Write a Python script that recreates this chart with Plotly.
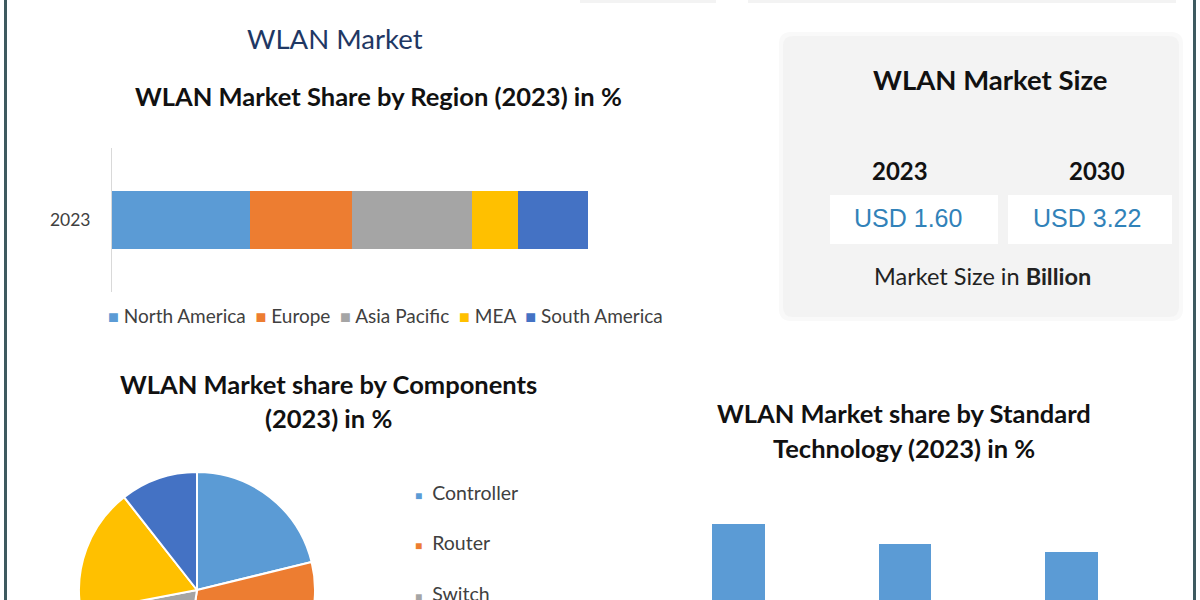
import plotly.graph_objects as go

# ---------------- data ----------------
region_year = ["2023"]
regions = ["North America", "Europe", "Asia Pacific", "MEA", "South America"]
region_share = [29.0, 21.5, 25.2, 9.6, 14.7]

components = ["Controller", "Router", "Switch", "Access Point", "Others"]
component_share = [21.2, 31.2, 19.6, 17.4, 10.6]

standards = ["802.11ac", "802.11n", "802.11ax"]
standard_share = [40.0, 35.0, 33.0]

size_years = ["2023", "2030"]
size_values = [1.60, 3.22]

# ---------------- styles ----------------
W, H = 1200, 760          # virtual canvas; only the top 600px are shown
VIEW_H = 600
region_colors = ["#5b9bd5", "#ed7d31", "#a5a5a5", "#ffc000", "#4472c4"]
component_colors = ["#5b9bd5", "#ed7d31", "#a5a5a5", "#ffc000", "#4472c4"]
bar_color = "#5b9bd5"
TXT = "#404040"
BODY_FONT = "Lato"
NUM_FONT = "Liberation Sans"


def fx(x):
    return x / W


def fy(y):
    return 1 - y / H


fig = go.Figure()

# ---- region stacked bar ----
for name, val, col in zip(regions, region_share, region_colors):
    fig.add_trace(go.Bar(
        y=region_year, x=[val], name=name, orientation="h",
        marker=dict(color=col, line=dict(width=0)), width=0.396,
        xaxis="x", yaxis="y", showlegend=False,
        hovertemplate=name + ": %{x}%<extra></extra>",
    ))

# ---- components pie ----
cx, cy, r = 197, 590, 118
fig.add_trace(go.Pie(
    labels=components, values=component_share, sort=False,
    direction="clockwise", rotation=0, textinfo="none",
    marker=dict(colors=component_colors, line=dict(color="white", width=2)),
    domain=dict(x=[fx(cx - r), fx(cx + r)], y=[fy(cy + r), fy(cy - r)]),
    showlegend=False, hovertemplate="%{label}: %{value}%<extra></extra>",
))

# ---- standard technology bars ----
fig.add_trace(go.Bar(
    x=standards, y=standard_share, marker=dict(color=bar_color, line=dict(width=0)),
    width=0.317, xaxis="x2", yaxis="y2", showlegend=False,
    hovertemplate="%{x}: %{y}%<extra></extra>",
))

shapes = []
# frame side bars
shapes.append(dict(type="rect", xref="paper", yref="paper", x0=fx(4), x1=fx(7), y0=0, y1=1,
                   fillcolor="#3e5a5f", line=dict(width=0), layer="above"))
shapes.append(dict(type="rect", xref="paper", yref="paper", x0=fx(1193), x1=fx(1196), y0=0, y1=1,
                   fillcolor="#3e5a5f", line=dict(width=0), layer="above"))
# faint panels at the very top
for a, b in [(580, 716), (748, 1176)]:
    shapes.append(dict(type="rect", xref="paper", yref="paper", x0=fx(a), x1=fx(b),
                       y0=fy(3), y1=1, fillcolor="#f3f3f3", line=dict(width=0), layer="below"))


def rounded(x0, y0, x1, y1, rad):
    rx, ry = rad / W, rad / H
    X0, X1, Y0, Y1 = fx(x0), fx(x1), fy(y1), fy(y0)
    return (f"M {X0+rx},{Y1} L {X1-rx},{Y1} Q {X1},{Y1} {X1},{Y1-ry} "
            f"L {X1},{Y0+ry} Q {X1},{Y0} {X1-rx},{Y0} L {X0+rx},{Y0} "
            f"Q {X0},{Y0} {X0},{Y0+ry} L {X0},{Y1-ry} Q {X0},{Y1} {X0+rx},{Y1} Z")


# market size panel (soft shadow + box)
shapes.append(dict(type="path", xref="paper", yref="paper", path=rounded(779, 32, 1183, 321, 12),
                   fillcolor="#f9f9f9", line=dict(width=0), layer="below"))
shapes.append(dict(type="path", xref="paper", yref="paper", path=rounded(783, 36, 1179, 317, 10),
                   fillcolor="#f3f3f3", line=dict(width=0), layer="below"))
value_centers = [908, 1087]
box_spans = [(830, 998), (1008, 1172)]
for (a, b) in box_spans:
    shapes.append(dict(type="rect", xref="paper", yref="paper", x0=fx(a), x1=fx(b),
                       y0=fy(244), y1=fy(195), fillcolor="white", line=dict(width=0), layer="below"))

annotations = []


def text(x, y, s, size, color="#111111", bold=False, family=BODY_FONT, xanchor="center"):
    annotations.append(dict(
        x=fx(x), y=fy(y), xref="paper", yref="paper", showarrow=False,
        text=f"<b>{s}</b>" if bold else s, xanchor=xanchor, yanchor="middle",
        font=dict(size=size, color=color, family=family),
    ))


text(335, 38, "WLAN Market", 27.5, color="#1f3864")
text(378, 96, "WLAN Market Share by Region (2023) in %", 25.5, bold=True)
text(328, 384, "WLAN Market share by Components", 25.5, bold=True)
text(328, 418, "(2023) in %", 25.5, bold=True)
text(904, 413, "WLAN Market share by Standard", 25.5, bold=True)
text(904, 448, "Technology (2023) in %", 25.5, bold=True)

text(990, 79, "WLAN Market Size", 27.5, bold=True)
year_centers = [900, 1097]
for yr, xc in zip(size_years, year_centers):
    text(xc, 170, yr, 24, bold=True)
for v, xc in zip(size_values, value_centers):
    text(xc, 218, f"USD {v:.2f}", 25, color="#3182b9", family=NUM_FONT)
text(982, 276, "Market Size in <b>Billion</b>", 23.5, color="#222222")

# region legend (one flowing line of coloured squares + names)
legend_parts = [
    f"<span style='color:{col};font-size:18px'>■</span> {name}"
    for name, col in zip(regions, region_colors)
]
text(106, 315, "  ".join(legend_parts), 19, color=TXT, xanchor="left")

# pie legend (rows that fall inside the visible area)
for i, (lab, col) in enumerate(zip(components, component_colors)):
    yy = 492 + 50.5 * i
    if yy < VIEW_H:
        text(413, yy, f"<span style='color:{col};font-size:12px'>■</span>&nbsp; {lab}", 19.5,
             color=TXT, xanchor="left")

fig.update_layout(
    width=W, height=H,
    margin=dict(l=0, r=0, t=0, b=0),
    paper_bgcolor="white", plot_bgcolor="white",
    barmode="stack",
    showlegend=False,
    font=dict(family=BODY_FONT, color=TXT),
    xaxis=dict(domain=[fx(112), fx(588)], range=[0, 100], visible=False, fixedrange=True),
    yaxis=dict(domain=[fy(292), fy(148)], anchor="x", showline=True, linecolor="#d9d9d9",
               linewidth=1, ticks="", showgrid=False, zeroline=False,
               tickfont=dict(size=17.5, color=TXT, family=BODY_FONT), ticklabelstandoff=17,
               fixedrange=True),
    xaxis2=dict(domain=[fx(655), fx(1155)], anchor="y2", showline=False, ticks="",
                showgrid=False, showticklabels=False, fixedrange=True),
    yaxis2=dict(domain=[fy(684), fy(484)], anchor="x2", range=[0, 50], visible=False,
                fixedrange=True),
    shapes=shapes, annotations=annotations,
)

post = (
    "document.documentElement.style.margin='0';document.body.style.margin='0';"
    "document.documentElement.style.overflow='hidden';document.body.style.overflow='hidden';"
    "var gd=document.getElementById('{plot_id}');"
    f"gd.style.height='{VIEW_H}px';gd.style.overflow='hidden';"
    f"if(gd.parentElement){{gd.parentElement.style.height='{VIEW_H}px';gd.parentElement.style.overflow='hidden';}}"
)
fig.write_html("out.html", config={"displayModeBar": False}, post_script=post)
